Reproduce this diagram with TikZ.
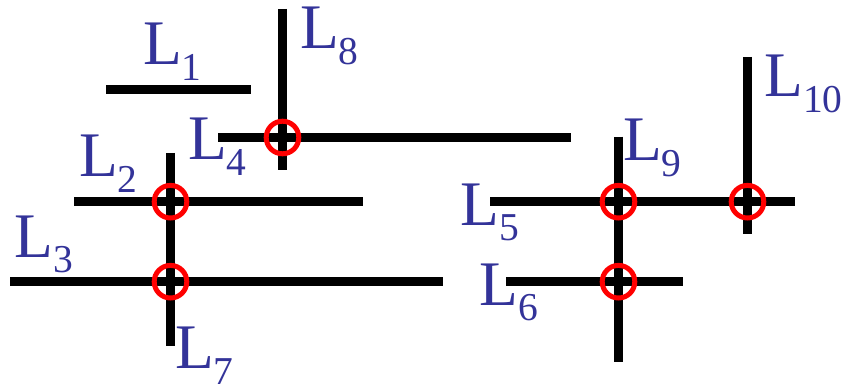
\documentclass[tikz,border=0pt]{standalone}
\usepackage{fontspec}
\setmainfont{Liberation Serif}
\definecolor{lblue}{RGB}{51,51,153}
\newcommand{\lab}[1]{{\fontsize{63.5}{70}\selectfont L\raisebox{-15.5pt}{\fontsize{39.5}{42}\selectfont #1}}}
\begin{document}
\begin{tikzpicture}[x=1pt,y=-1pt,
  seg/.style={line width=8.5pt,black,line cap=butt},
  hit/.style={draw=red,line width=5pt,circle,minimum size=32.6pt,inner sep=0pt},
  lbl/.style={text=lblue,anchor=base west,inner sep=0pt,outer sep=0pt}]
\useasboundingbox (0,0) rectangle (844,385);
% endpoints
\coordinate (a1) at (106,89.3); \coordinate (b1) at (251,89.3);
\coordinate (a8) at (282.5,9); \coordinate (b8) at (282.5,170);
\coordinate (a4) at (218,137.5); \coordinate (b4) at (570.7,137.5);
\coordinate (a2) at (74,201.7); \coordinate (b2) at (362.7,201.7);
\coordinate (a7) at (170.5,153); \coordinate (b7) at (170.5,346);
\coordinate (a3) at (10,281.7); \coordinate (b3) at (442.7,281.7);
\coordinate (a5) at (490,201.7); \coordinate (b5) at (794.7,201.7);
\coordinate (a9) at (618.5,136.7); \coordinate (b9) at (618.5,362);
\coordinate (a10) at (747.5,57); \coordinate (b10) at (747.5,234);
\coordinate (a6) at (506,281.7); \coordinate (b6) at (682.7,281.7);
% segments
\draw[seg] (a1) -- (b1);
\draw[seg] (a8) -- (b8);
\draw[seg] (a4) -- (b4);
\draw[seg] (a2) -- (b2);
\draw[seg] (a7) -- (b7);
\draw[seg] (a3) -- (b3);
\draw[seg] (a5) -- (b5);
\draw[seg] (a9) -- (b9);
\draw[seg] (a10) -- (b10);
\draw[seg] (a6) -- (b6);
% intersections
\node[hit] (x48) at (a8 |- a4) {};
\node[hit] (x27) at (a7 |- a2) {};
\node[hit] (x37) at (a7 |- a3) {};
\node[hit] (x59) at (a9 |- a5) {};
\node[hit] (x510) at (a10 |- a5) {};
\node[hit] (x69) at (a9 |- a6) {};
% labels
\node[lbl] (t1) at (143,65) {\lab{1}};
\node[lbl] (t8) at (300,49) {\lab{8}};
\node[lbl] (t4) at (188,160) {\lab{4}};
\node[lbl] (t2) at (79,177) {\lab{2}};
\node[lbl] (t3) at (15,257) {\lab{3}};
\node[lbl] (t7) at (175,368.7) {\lab{7}};
\node[lbl] (t9) at (623,161) {\lab{9}};
\node[lbl] (t10) at (764.3,96.7) {\lab{10}};
\node[lbl] (t5) at (460.3,225.3) {\lab{5}};
\node[lbl] (t6) at (479.3,305.3) {\lab{6}};
\end{tikzpicture}
\end{document}
